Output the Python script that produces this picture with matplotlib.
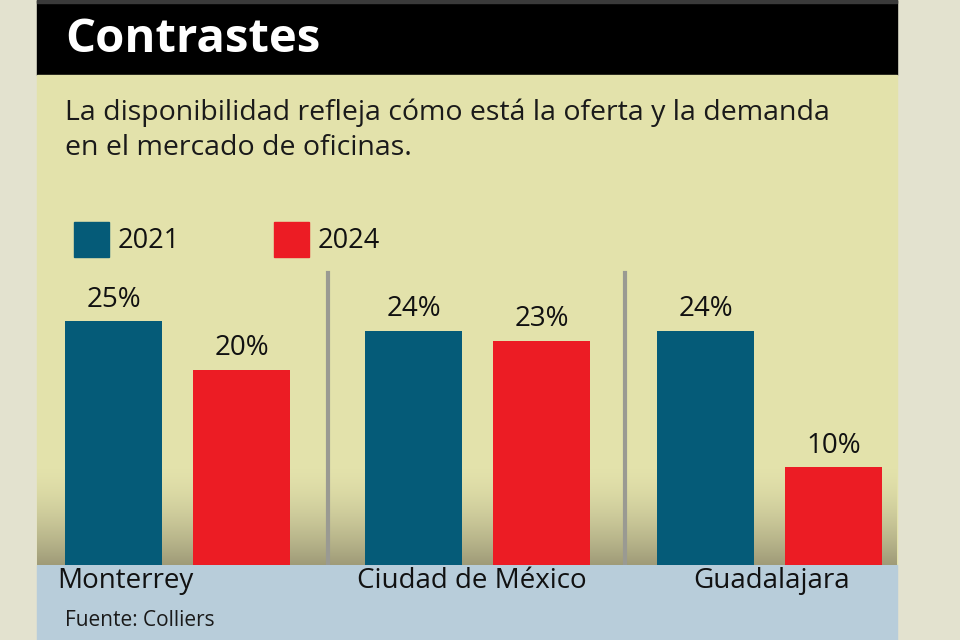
"""Contrastes: office availability by city, 2021 vs 2024."""
import matplotlib.pyplot as plt
import numpy as np
from matplotlib.colors import LinearSegmentedColormap
from matplotlib.patches import Rectangle

cities = ["Monterrey", "Ciudad de México", "Guadalajara"]
years = ["2021", "2024"]
avail_2021 = [25, 24, 24]
avail_2024 = [20, 23, 10]

title = "Contrastes"
subtitle = "La disponibilidad refleja cómo está la oferta y la demanda\nen el mercado de oficinas."
source = "Fuente: Colliers"

C_2021 = "#055b78"
C_2024 = "#ec1c24"
PANEL = "#e3e2ab"
OUTER = "#e3e2cf"
BAND = "#b8cdda"

plt.rcParams["font.family"] = ["Open Sans", "DejaVu Sans"]

W, H = 960, 640
fig = plt.figure(figsize=(W / 100, H / 100), dpi=100)
fig.patch.set_facecolor(OUTER)

# background layer in pixel coordinates (y down)
bg = fig.add_axes([0, 0, 1, 1])
bg.set_xlim(0, W)
bg.set_ylim(H, 0)
bg.axis("off")
bg.add_patch(Rectangle((37, 0), 860, 75, color="#000000", zorder=1))
bg.add_patch(Rectangle((37, 0), 860, 3, color="#3a3a3a", zorder=2))
bg.add_patch(Rectangle((37, 75), 860, 490, color=PANEL, zorder=1))
bg.add_patch(Rectangle((37, 565), 860, 75, color=BAND, zorder=1))
grad = LinearSegmentedColormap.from_list("g", [PANEL, "#9f9b78"])
bg.imshow(np.linspace(0, 1, 100).reshape(-1, 1) ** 1.6, cmap=grad, aspect="auto",
          extent=(37, 897, 565, 465), zorder=1.5)
bg.set_xlim(0, W)
bg.set_ylim(H, 0)

bg.text(65, 40, title, color="white", fontsize=34, fontweight="bold",
        va="center", ha="left", zorder=3)
bg.text(65, 130, subtitle, color="#1a1a1a", fontsize=20.5, va="center",
        ha="left", linespacing=1.35, zorder=3)

# legend
for i, (yr, col) in enumerate(zip(years, [C_2021, C_2024])):
    x0 = 74 + i * 200
    bg.add_patch(Rectangle((x0, 222), 35, 35, color=col, zorder=3))
    bg.text(x0 + 44, 241, yr, fontsize=19.5, color="#111111", va="center",
            ha="left", zorder=3)

bg.text(65, 620, source, fontsize=15, color="#1a1a1a", va="center", ha="left", zorder=3)

# bar layer: x in pixels, y in percent
ax = fig.add_axes([37 / W, (H - 565) / H, 860 / W, 490 / H])
ax.set_xlim(37, 897)
ax.set_ylim(0, 490 / 9.76)
ax.axis("off")
ax.patch.set_alpha(0)

group_left = [65, 365, 657]
bar_w = 97
step = 128
for g, (v1, v2) in enumerate(zip(avail_2021, avail_2024)):
    for k, (v, col) in enumerate([(v1, C_2021), (v2, C_2024)]):
        xc = group_left[g] + k * step + bar_w / 2
        ax.bar(xc, v, width=bar_w, color=col, zorder=3)
        ax.text(xc, v + 0.75, f"{v}%", ha="center", va="bottom", fontsize=20,
                color="#111111", zorder=4)

for xd in [328, 625]:
    ax.axvline(xd, ymin=0, ymax=(565 - 273) / 490, color="#9a9a92", lw=3, zorder=2)

label_x = [57, 357, 693]
for name, lx in zip(cities, label_x):
    bg.text(lx, 581, name, fontsize=20, color="#111111", va="center", ha="left", zorder=3)

fig.savefig("out.png", dpi=100, facecolor=fig.get_facecolor())
